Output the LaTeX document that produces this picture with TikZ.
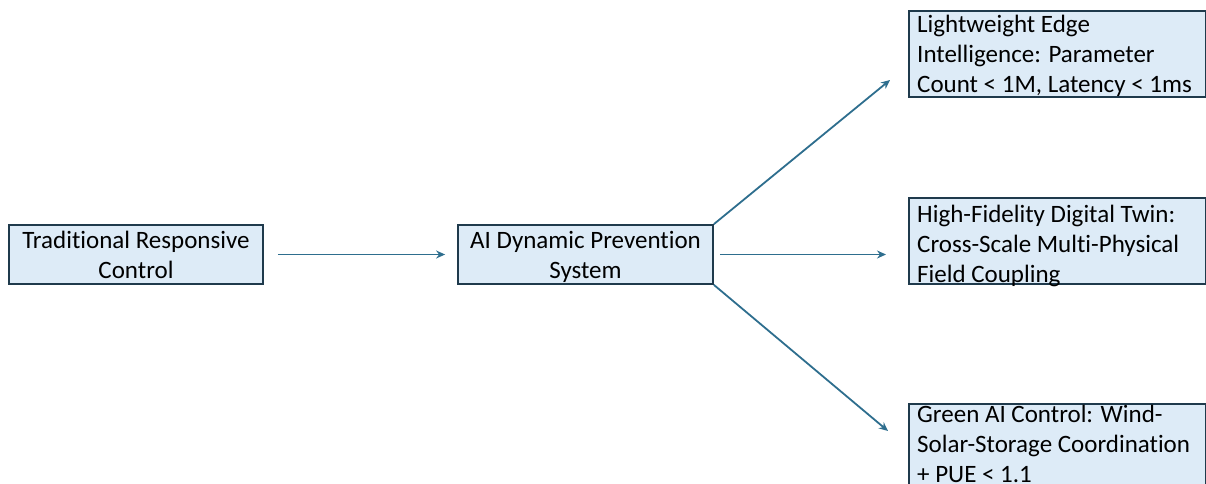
\documentclass[tikz,border=0pt]{standalone}
\usepackage{fontspec}
\setmainfont{Carlito}[Ligatures=NoCommon]
\usepackage{tikz}
\usetikzlibrary{positioning,arrows.meta}
\definecolor{boxfill}{HTML}{DDEBF7}
\definecolor{boxline}{HTML}{1F3A4C}
\definecolor{arrowcol}{HTML}{2E6E8E}

\begin{document}
\begin{tikzpicture}[x=1pt,y=-1pt,
  box/.style={draw=boxline,fill=boxfill,line width=1.8pt,inner sep=0pt},
  lbl/.style={inner sep=0pt,align=left,font=\fontsize{25}{30}\selectfont},
  flow/.style={draw=arrowcol,line width=1.8pt,-{Stealth[length=9pt,width=8pt]}}]
\useasboundingbox (0,0) rectangle (1206,484);
\clip (0,0) rectangle (1206,484);
% left and middle
\node[box,minimum width=254pt,minimum height=59pt,align=center,
  font=\fontsize{25}{30}\selectfont] (trad) at (136,254.5) {Traditional Responsive\\Control};
\node[box,minimum width=255pt,minimum height=59pt,align=center,text depth=0pt,
  font=\fontsize{25}{30}\selectfont] (ai) at (585.5,254.5) {AI Dynamic Prevention\\System};
% right column
\node[box,minimum width=297pt,minimum height=86pt,anchor=north west] (edge) at (908,10) {};
\node[lbl,anchor=north west] (edgetxt) at (917,15) {Lightweight Edge\\Intelligence: Parameter\\Count < 1M, Latency < 1ms};
\node[box,minimum width=297pt,minimum height=86pt,anchor=north west] (twin) at (908,197) {};
\node[lbl,anchor=north west] (twintxt) at (917,204.5) {High-Fidelity Digital Twin:\\Cross-Scale Multi-Physical\\Field Coupling};
\node[box,minimum width=297pt,minimum height=100pt,anchor=north west] (green) at (908,403) {};
\node[lbl,anchor=north west] (greentxt) at (917,404.5) {Green AI Control: Wind-\\Solar-Storage Coordination\\+ PUE < 1.1};
% connectors
\coordinate (edgein) at (890,80);
\coordinate (greenin) at (888,431);
\draw[flow,shorten <=14pt,shorten >=12pt] (trad.east) -- (ai.west);
\draw[flow,shorten <=6pt,shorten >=22pt] (ai.east) -- (ai.east -| twin.west);
\draw[flow] (ai.north east) -- (edgein);
\draw[flow] (ai.south east) -- (greenin);
\end{tikzpicture}
\end{document}
